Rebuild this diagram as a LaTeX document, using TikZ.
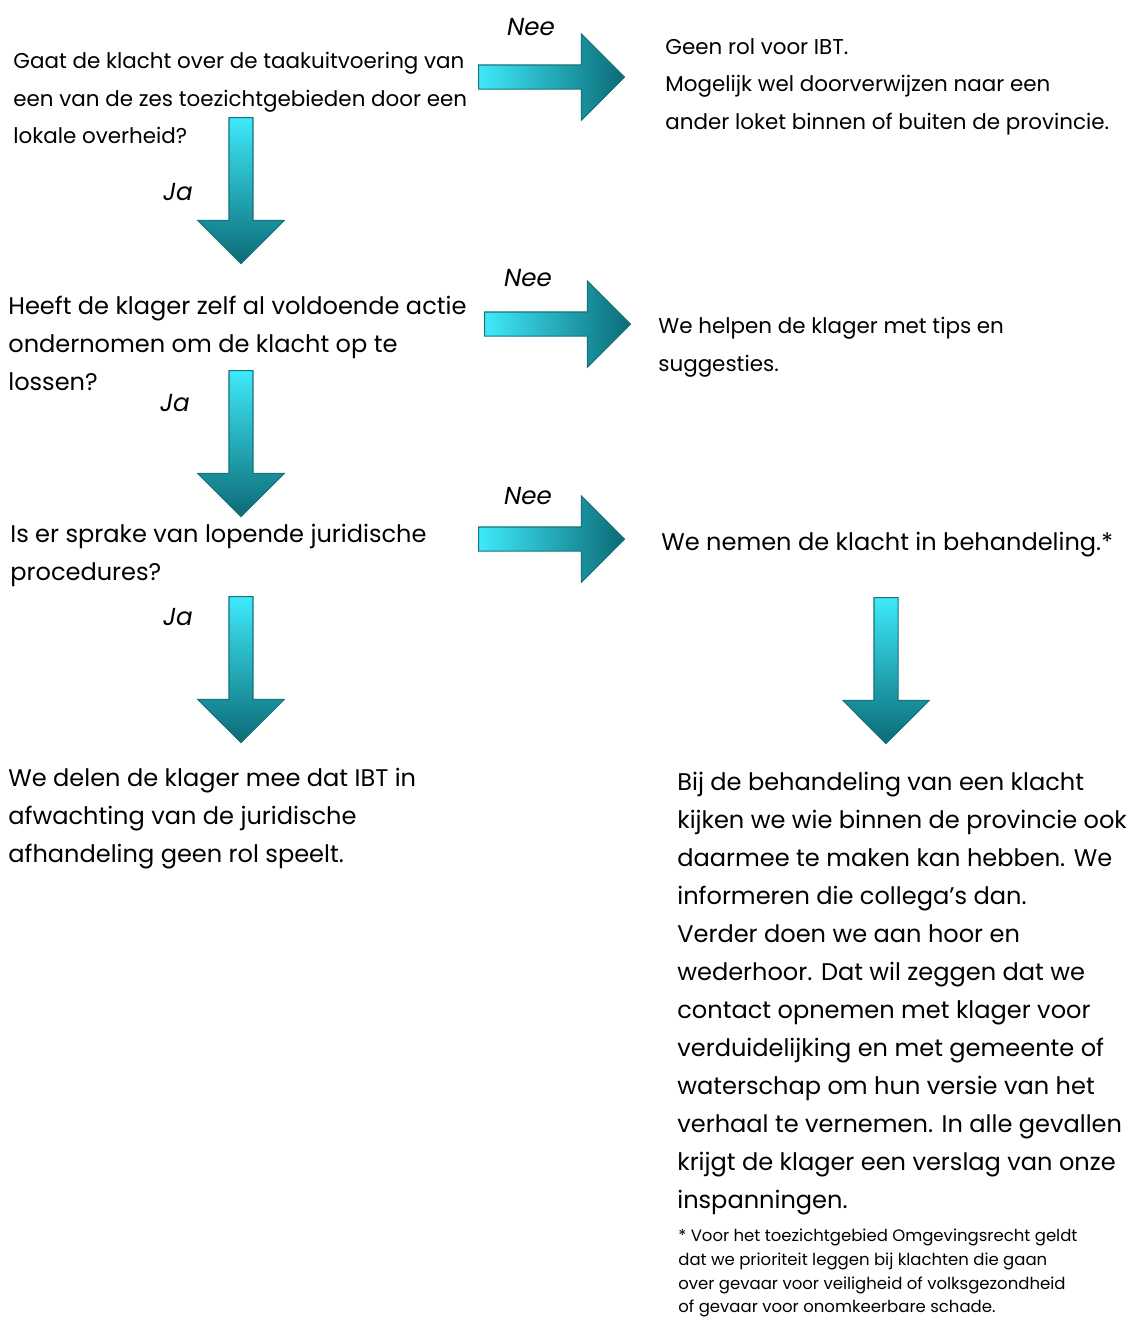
\documentclass[tikz,border=0pt]{standalone}
\usepackage{fontspec}
\setmainfont{Poppins}
\usetikzlibrary{shapes.arrows}

\definecolor{arrowlight}{HTML}{3FE9FA}
\definecolor{arrowdark}{HTML}{0B6B76}
\definecolor{arrowline}{HTML}{17737C}

\begin{document}
\begin{tikzpicture}[x=0.02cm, y=-0.02cm,
            txt/.style={anchor=north west, inner sep=0pt, align=left, font=\fontsize{12.2}{21.4}\selectfont},
            bigtxt/.style={txt, font=\fontsize{13.7}{21.5}\selectfont},
            note/.style={txt, font=\fontsize{9.4}{13.4}\selectfont},
            answer/.style={inner sep=0pt, font=\itshape\fontsize{14}{16}\selectfont},
            blockarrow/.style={single arrow, draw=arrowline, line width=0.6pt, inner sep=0.23cm, minimum height=2.92cm, single arrow head extend=0.62cm, single arrow head indent=0pt, anchor=tail},
            rightarrow/.style={blockarrow, left color=arrowlight, right color=arrowdark},
            downarrow/.style={blockarrow, shape border rotate=270, top color=arrowlight, bottom color=arrowdark}
        ]
            \useasboundingbox (0,0) rectangle (1134,1320);

            % questions
            \node[txt] (q1) at (13,52) {Gaat de klacht over de taakuitvoering van\\een van de zes toezichtgebieden door een\\lokale overheid?};
            \node[bigtxt] (q2) at (8,296) {Heeft de klager zelf al voldoende actie\\ondernomen om de klacht op te\\lossen?};
            \node[bigtxt] (q3) at (10,524) {Is er sprake van lopende juridische\\procedures?};
            \node[bigtxt] (geenrol) at (8,768) {We delen de klager mee dat IBT in\\afwachting van de juridische\\afhandeling geen rol speelt.};

            % outcomes
            \node[txt] (loket) at (665,38) {Geen rol voor IBT.\\Mogelijk wel doorverwijzen naar een\\ander loket binnen of buiten de provincie.};
            \node[txt] (tips) at (658,317) {We helpen de klager met tips en\\suggesties.};
            \node[bigtxt] (behandeling) at (661,532) {We nemen de klacht in behandeling.*};
            \node[bigtxt, font=\fontsize{13.7}{21.6}\selectfont] (uitleg) at (677,772) {Bij de behandeling van een klacht\\kijken we wie binnen de provincie ook\\daarmee te maken kan hebben. We\\informeren die collega’s dan.\\Verder doen we aan hoor en\\wederhoor. Dat wil zeggen dat we\\contact opnemen met klager voor\\verduidelijking en met gemeente of\\waterschap om hun versie van het\\verhaal te vernemen. In alle gevallen\\krijgt de klager een verslag van onze\\inspanningen.};
            \node[note] (voetnoot) at (678,1229) {* Voor het toezichtgebied Omgevingsrecht geldt\\dat we prioriteit leggen bij klachten die gaan\\over gevaar voor veiligheid of volksgezondheid\\of gevaar voor onomkeerbare schade.};

            % arrows
            \node[rightarrow] (nee1) at (478,77) {};
            \node[rightarrow] (nee2) at (484,324) {};
            \node[rightarrow] (nee3) at (478,539) {};
            \node[downarrow] (ja1) at (241,117) {};
            \node[downarrow] (ja2) at (241,370) {};
            \node[downarrow] (ja3) at (241,596) {};
            \node[downarrow] (verder) at (886,597) {};

            % answers
            \node[answer] (neelabel1) at (531,27) {Nee};
            \node[answer] (neelabel2) at (528,278) {Nee};
            \node[answer] (neelabel3) at (528,496) {Nee};
            \node[answer] (jalabel1) at (178,192) {Ja};
            \node[answer] (jalabel2) at (175,403) {Ja};
            \node[answer] (jalabel3) at (178,617) {Ja};
        \end{tikzpicture}
\end{document}
